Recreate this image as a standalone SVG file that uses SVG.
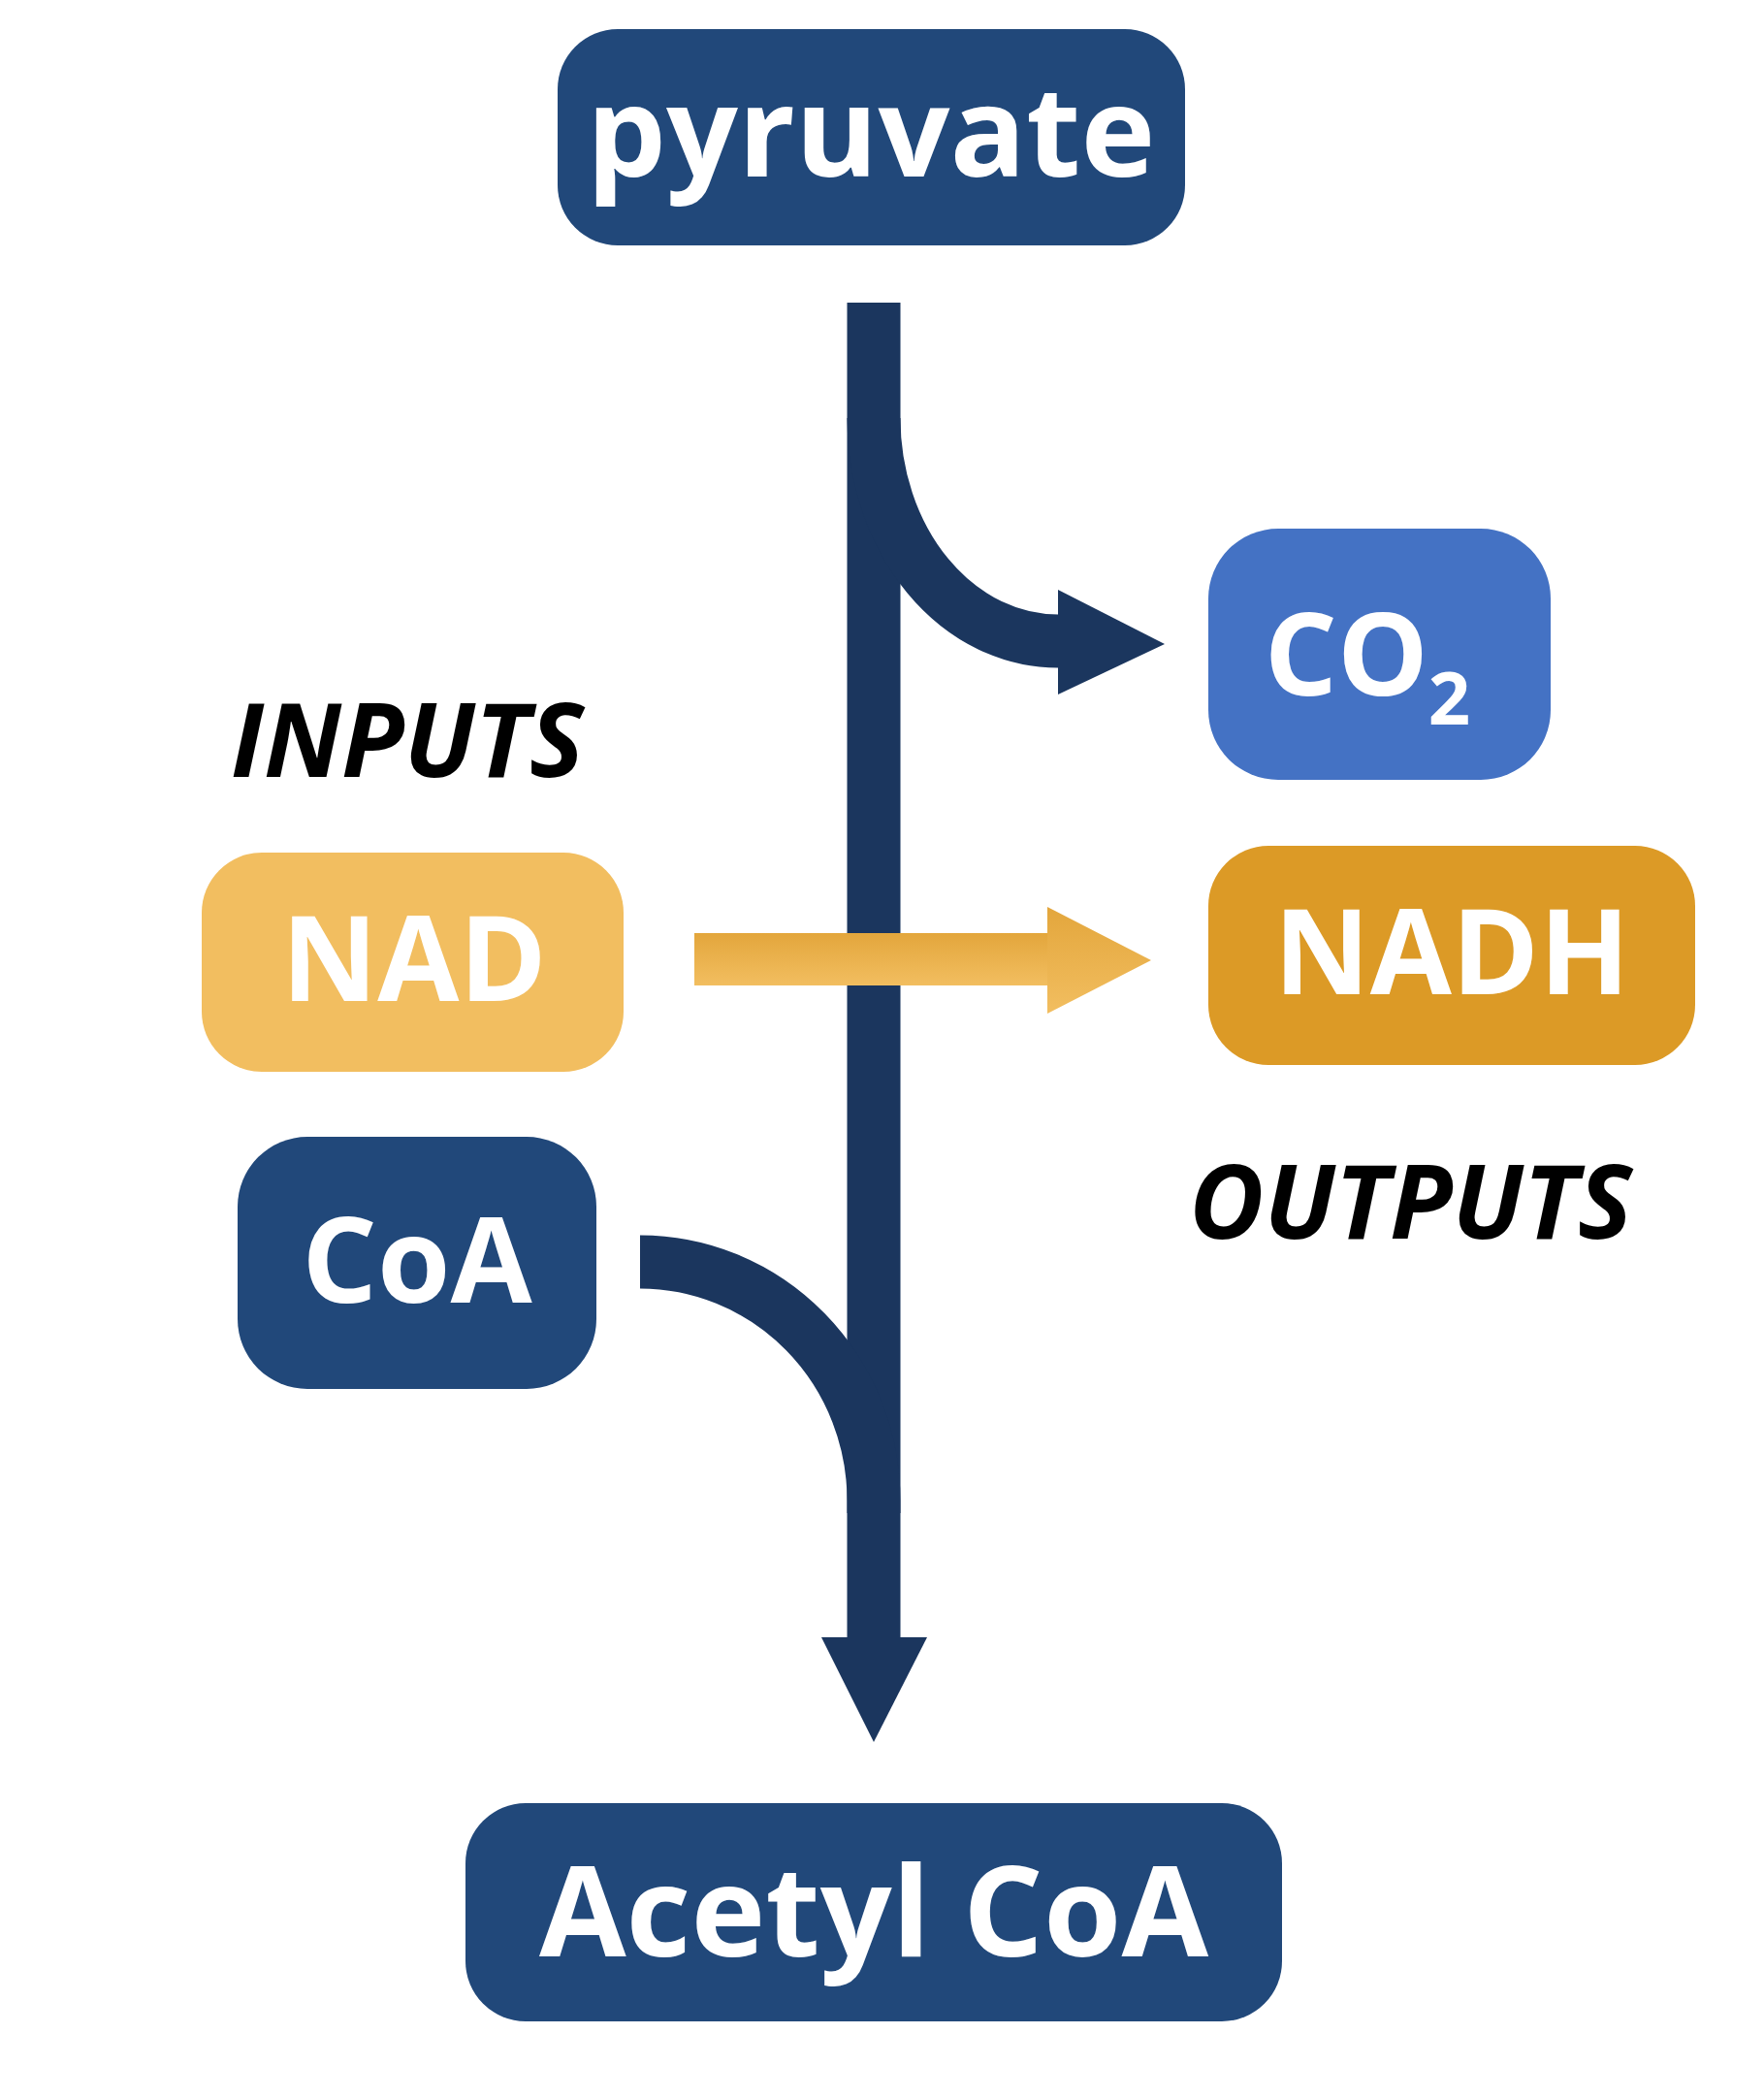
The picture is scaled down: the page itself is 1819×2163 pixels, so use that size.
<svg xmlns="http://www.w3.org/2000/svg" width="1819" height="2163" viewBox="0 0 1819 2163">
<style>
.box{fill:#21487A}
.lbl{font-family:"Open Sans","Liberation Sans",sans-serif;font-weight:bold;fill:#fff;text-anchor:middle}
.side{font-family:"Open Sans","Liberation Sans",sans-serif;font-weight:bold;font-style:italic;fill:#000;font-size:106px}
.flow{fill:none;stroke:#1B365E;stroke-width:55}
</style>
<defs>
<linearGradient id="gold" x1="0" y1="0" x2="0" y2="1">
<stop offset="0" stop-color="#E3A63C"/><stop offset="1" stop-color="#F2BE60"/>
</linearGradient>
</defs>
<rect width="1819" height="2163" fill="#fff"/>
<g id="connectors">
<path class="flow" d="M901 312 V1688"/>
<polygon fill="#1B365E" points="847,1688 956,1688 901,1796"/>
<path class="flow" d="M901 431 A190 230 0 0 0 1091 661"/>
<polygon fill="#1B365E" points="1091,608 1201,664 1091,716"/>
<path class="flow" d="M660 1301 A241 246 0 0 1 901 1547 V1560"/>
<rect x="716" y="962" width="366" height="54" fill="url(#gold)"/>
<polygon fill="url(#gold)" points="1080,935 1187,990 1080,1045"/>
</g>
<g id="pyruvate"><rect class="box" x="575" y="30" width="647" height="223" rx="62"/><text class="lbl" x="898" y="182" font-size="130">pyruvate</text></g>
<g id="co2"><rect x="1246" y="545" width="353" height="259" rx="72" fill="#4472C4"/><text class="lbl" x="1410" y="717" font-size="118">CO<tspan font-size="76" dy="30">2</tspan></text></g>
<g id="inputs"><text class="side" x="238" y="801">INPUTS</text></g>
<g id="nad"><rect x="208" y="879" width="435" height="226" rx="62" fill="#F2BE60"/><text class="lbl" x="427" y="1032" font-size="122">NAD</text></g>
<g id="nadh"><rect x="1246" y="872" width="502" height="226" rx="62" fill="#DC9A26"/><text class="lbl" x="1497" y="1025" font-size="122">NADH</text></g>
<g id="outputs"><text class="side" x="1226" y="1277">OUTPUTS</text></g>
<g id="coa"><rect class="box" x="245" y="1172" width="370" height="260" rx="72"/><text class="lbl" x="430" y="1343" font-size="122">CoA</text></g>
<g id="acetylcoa"><rect class="box" x="480" y="1859" width="842" height="225" rx="62"/><text class="lbl" x="901" y="2017" font-size="130">Acetyl CoA</text></g>
</svg>
